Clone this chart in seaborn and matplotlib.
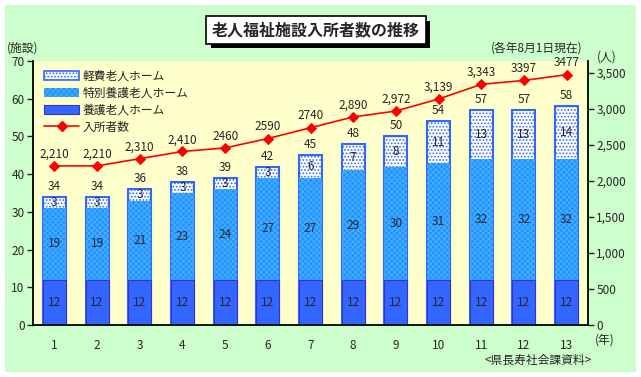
import numpy as np
import matplotlib
matplotlib.use('Agg')
import matplotlib.pyplot as plt
import matplotlib.patheffects as pe
from matplotlib.patches import Rectangle, Patch
from matplotlib.lines import Line2D
import seaborn as sns

sns.set_style('white')
plt.rcParams['font.family'] = ['Noto Sans CJK JP', 'DejaVu Sans']
plt.rcParams['hatch.linewidth'] = 0.8

# data
years = ['1', '2', '3', '4', '5', '6', '7', '8', '9', '10', '11', '12', '13']
yogo = [12, 12, 12, 12, 12, 12, 12, 12, 12, 12, 12, 12, 12]
tokubetsu = [19, 19, 21, 23, 24, 27, 27, 29, 30, 31, 32, 32, 32]
keihi = [3, 3, 3, 3, 3, 3, 6, 7, 8, 11, 13, 13, 14]
residents = [2210, 2210, 2310, 2410, 2460, 2590, 2740, 2890, 2972, 3139, 3343, 3397, 3477]
resident_labels = ['2,210', '2,210', '2,310', '2,410', '2460', '2590', '2740',
                   '2,890', '2,972', '3,139', '3,343', '3397', '3477']

names = ['軽費老人ホーム', '特別養護老人ホーム', '養護老人ホーム', '入所者数']

yogo = np.array(yogo)
tokubetsu = np.array(tokubetsu)
keihi = np.array(keihi)
mid = yogo + tokubetsu
total = mid + keihi
n = len(years)

W, H = 641, 377
fig = plt.figure(figsize=(W / 100, H / 100), dpi=100)
fig.patch.set_facecolor('white')
fig.patches.append(Rectangle((5 / W, 1 - 372 / H), 631 / W, 367 / H,
                             transform=fig.transFigure, fc='#CCFFCC', ec='none', zorder=-5))

ax = fig.add_axes([33 / W, 1 - 325 / H, 555 / W, 264 / H])
ax.set_facecolor('#FFFFCC')

bw = 0.54
# stacked bars drawn as cumulative layers, back to front
sns.barplot(x=years, y=total, color='white', width=bw, saturation=1, ax=ax)
layer1 = list(ax.patches)
for p in layer1:
    p.set_hatch('.....')
    p.set_edgecolor('#3366FF')
    p.set_linewidth(1.5)

sns.barplot(x=years, y=mid, color='#3388FF', width=bw, saturation=1, ax=ax)
layer2 = [p for p in ax.patches if p not in layer1]
for p in layer2:
    p.set_hatch('xxxxxx')
    p.set_edgecolor('#33B8FF')
    p.set_linewidth(0)

sns.barplot(x=years, y=yogo, color='#3366FF', width=bw, saturation=1, ax=ax)
layer3 = [p for p in ax.patches if p not in layer1 and p not in layer2]
for p in layer3:
    p.set_edgecolor('#3333CC')
    p.set_linewidth(0.8)

fs = 8.5
for i in range(n):
    ax.text(i, yogo[i] / 2, str(yogo[i]), ha='center', va='center', fontsize=fs)
    ax.text(i, yogo[i] + tokubetsu[i] / 2, str(tokubetsu[i]), ha='center', va='center', fontsize=fs)
    ax.text(i, mid[i] + keihi[i] / 2, str(keihi[i]), ha='center', va='center', fontsize=fs)
    ax.text(i, total[i] + 2.8, str(total[i]), ha='center', va='center', fontsize=fs)

ax.set_xlim(-0.5, n - 0.5)
ax.set_ylim(0, 70)
ax.set_yticks(range(0, 71, 10))
ax.set_xlabel('')
ax.set_ylabel('')
ax.tick_params(axis='y', direction='out', length=4, width=1, labelsize=fs, pad=2, left=True)
ax.tick_params(axis='x', length=0, labelsize=fs, pad=10)
for s in ['left', 'bottom']:
    ax.spines[s].set_linewidth(1.3)
    ax.spines[s].set_color('black')
ax.spines['top'].set_visible(False)
ax.spines['right'].set_visible(False)

ax2 = ax.twinx()
sns.lineplot(x=np.arange(n), y=residents, ax=ax2, color='#FF0000', lw=1.2,
             marker='D', markersize=5, markeredgecolor='#FF0000')
for i in range(n):
    ax2.annotate(resident_labels[i], (i, residents[i]), xytext=(0, 8.5),
                 textcoords='offset points', ha='center', va='center', fontsize=fs)
ax2.set_ylim(0, 3667)
ax2.set_yticks(range(0, 3501, 500))
ax2.set_yticklabels([f'{v:,}' for v in range(0, 3501, 500)])
ax2.tick_params(axis='y', direction='out', length=4, width=1, labelsize=fs, pad=2, right=True)
ax2.spines['right'].set_linewidth(1.3)
ax2.spines['right'].set_color('black')
for s in ['top', 'left', 'bottom']:
    ax2.spines[s].set_visible(False)
ax2.set_xlim(-0.5, n - 0.5)

handles = [Patch(fc='white', ec='#3366FF', hatch='.....', lw=1.2),
           Patch(fc='#3388FF', ec='#33B8FF', hatch='xxxxxx', lw=0),
           Patch(fc='#3366FF', ec='#3333CC', lw=0.8),
           Line2D([], [], color='#FF0000', lw=1.2, marker='D', markersize=5)]
ax2.legend(handles, names, loc='upper left', bbox_to_anchor=(0.005, 1.0), frameon=False,
           fontsize=fs, handlelength=3.0, handleheight=0.8, labelspacing=0.35,
           handletextpad=0.3, borderaxespad=0.3)

# title in a box with a drop shadow
title = '老人福祉施設入所者数の推移'
t = fig.text(0.493, 1 - 30 / H, title, ha='center', va='center', fontsize=11.5, fontweight='bold',
             bbox=dict(boxstyle='square,pad=0.35', fc='white', ec='black', lw=1.2))
t.get_bbox_patch().set_path_effects([
    pe.SimplePatchShadow(offset=(3, -3), shadow_rgbFace='black', alpha=1.0), pe.Normal()])

fig.text(23 / W, 1 - 48 / H, '(施設)', ha='center', va='center', fontsize=fs)
fig.text(537 / W, 1 - 48 / H, '(各年8月1日現在)', ha='center', va='center', fontsize=fs)
fig.text(607 / W, 1 - 57 / H, '(人)', ha='center', va='center', fontsize=fs)
fig.text(605 / W, 1 - 340 / H, '(年)', ha='center', va='center', fontsize=fs)
fig.text(538 / W, 1 - 360 / H, '<県長寿社会課資料>', ha='center', va='center', fontsize=fs)

fig.savefig('out.png', dpi=100, facecolor='white')
